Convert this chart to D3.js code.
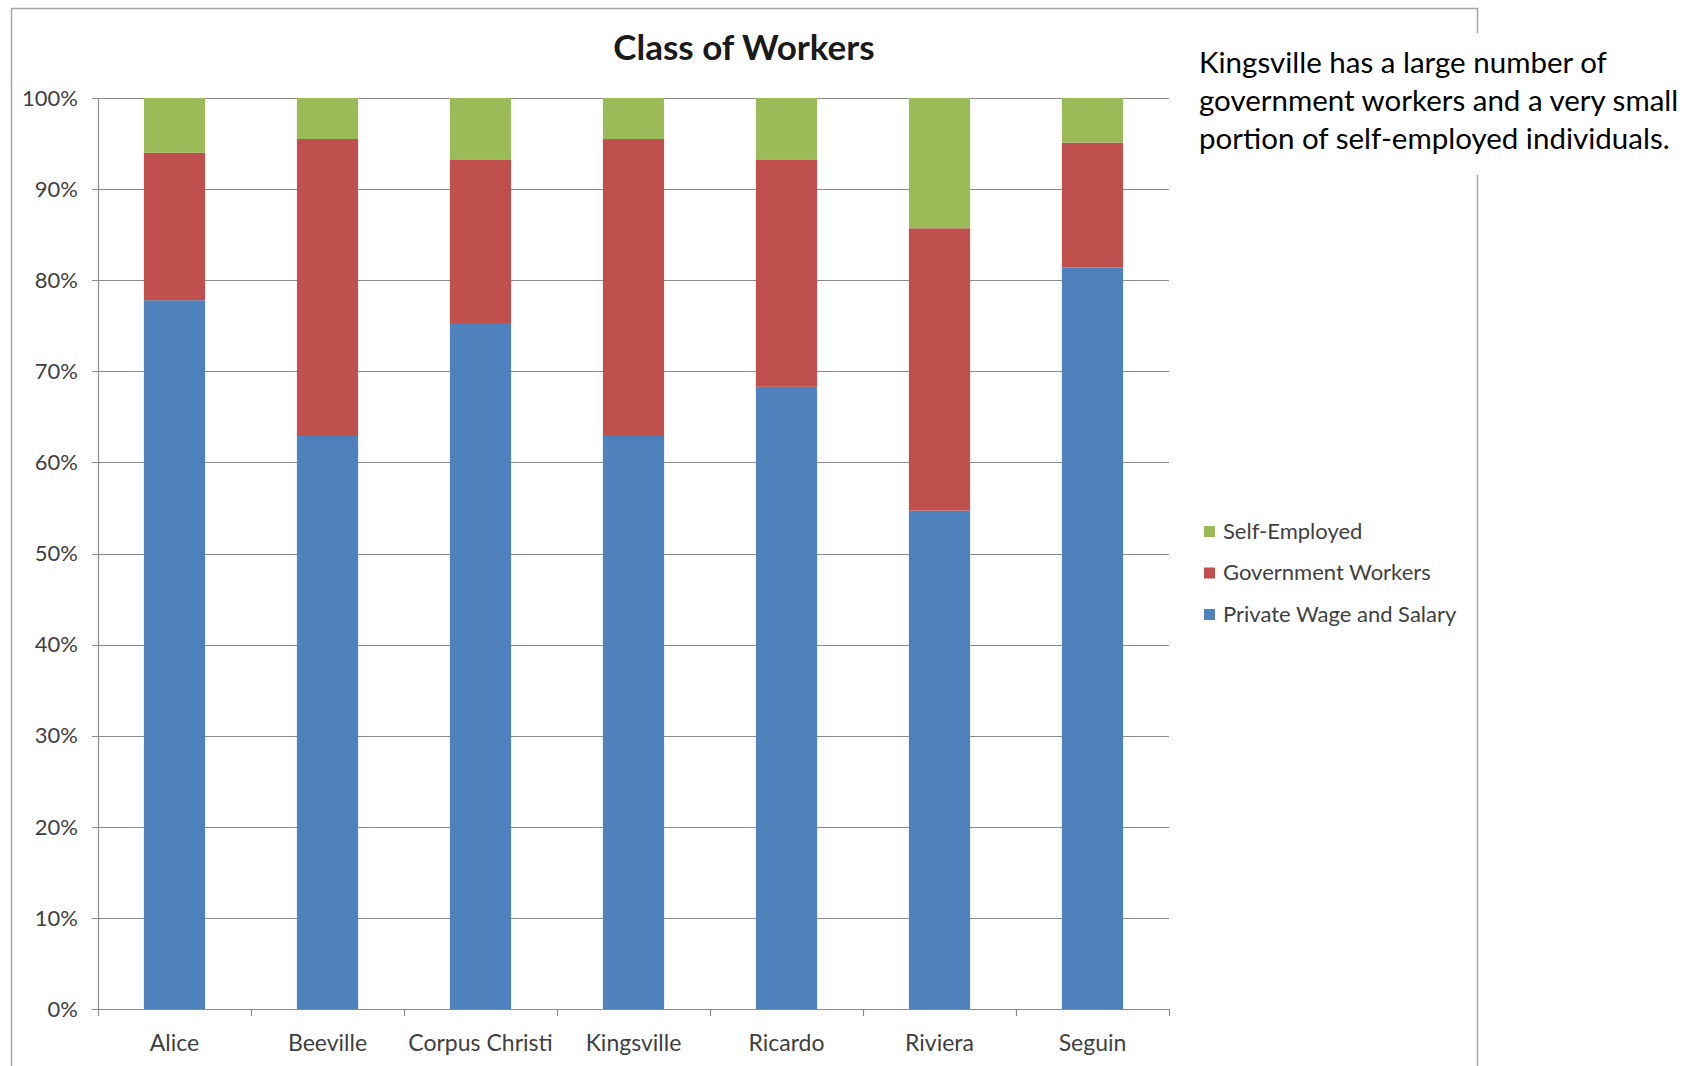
<!DOCTYPE html>
<html>
<head>
<meta charset="utf-8">
<script src="https://cdn.jsdelivr.net/npm/d3@7"></script>
<style>
  body { margin: 0; background: #fff; }
  svg { display: block; font-family: Lato, "Open Sans", sans-serif; }
</style>
</head>
<body>
<div id="chart"></div>
<script>
// 数据
const cities = ['Alice', 'Beeville', 'Corpus Christi', 'Kingsville', 'Ricardo', 'Riviera', 'Seguin'];
const privateWage = [77.8, 62.9, 75.2, 62.9, 68.3, 54.7, 81.4];
const government = [16.2, 32.6, 18.0, 32.6, 24.9, 31.0, 13.7];
const selfEmployed = [6.0, 4.5, 6.8, 4.5, 6.8, 14.3, 4.9];
const seriesNames = ['Private Wage and Salary', 'Government Workers', 'Self-Employed'];
const seriesColors = ['#4F81BD', '#C0504D', '#9BBB59'];
const yTicks = [0, 10, 20, 30, 40, 50, 60, 70, 80, 90, 100];
const note = ['Kingsville has a large number of', 'government workers and a very small', 'portion of self-employed individuals.'];

const W = 1704, H = 1066;
const svg = d3.select('#chart').append('svg').attr('width', W).attr('height', H);

// 图表外框
svg.append('rect')
    .attr('x', 11.5).attr('y', 8.5)
    .attr('width', 1466).attr('height', 1100)
    .attr('fill', '#fff')
    .attr('stroke', '#a6a6a6')
    .attr('stroke-width', 1.5);

const plot = {left: 98, right: 1169, top: 98, bottom: 1009};

let x = d3.scaleBand()
    .domain(cities)
    .range([plot.left, plot.right])
    .paddingInner(0.6)
    .paddingOuter(0.3);
let y = d3.scaleLinear().domain([0, 100]).range([plot.bottom, plot.top]);

// 网格线
svg.append('g')
    .selectAll('line')
    .data(yTicks)
    .enter()
    .append('line')
    .attr('x1', plot.left - 6)
    .attr('x2', plot.right)
    .attr('y1', d => Math.round(y(d)) + 0.5)
    .attr('y2', d => Math.round(y(d)) + 0.5)
    .style('stroke', '#8c8c8c')
    .style('stroke-width', 1.2);

// y轴标签
svg.append('g')
    .selectAll('text')
    .data(yTicks)
    .enter()
    .append('text')
    .attr('x', plot.left - 20)
    .attr('y', d => y(d))
    .attr('dy', '0.35em')
    .style('text-anchor', 'end')
    .style('font-size', '22px')
    .style('fill', '#404040')
    .text(d => d + '%');

// 堆叠数据
let rows = cities.map((c, i) => ({
    city: c,
    'Private Wage and Salary': privateWage[i],
    'Government Workers': government[i],
    'Self-Employed': selfEmployed[i]
}));
let stack = d3.stack().keys(seriesNames);
let color = d3.scaleOrdinal().domain(seriesNames).range(seriesColors);

svg.append('g')
    .selectAll('g')
    .data(stack(rows))
    .enter()
    .append('g')
    .style('fill', d => color(d.key))
    .selectAll('rect')
    .data(d => d)
    .enter()
    .append('rect')
    .attr('x', d => x(d.data.city))
    .attr('width', x.bandwidth())
    .attr('y', d => y(d[1]))
    .attr('height', d => y(d[0]) - y(d[1]));

// 轴线
svg.append('line')
    .attr('x1', plot.left + 0.5).attr('x2', plot.left + 0.5)
    .attr('y1', plot.top).attr('y2', plot.bottom)
    .style('stroke', '#8c8c8c').style('stroke-width', 1.2);
svg.append('line')
    .attr('x1', plot.left).attr('x2', plot.right)
    .attr('y1', Math.round(y(0)) + 0.5).attr('y2', Math.round(y(0)) + 0.5)
    .style('stroke', '#8c8c8c').style('stroke-width', 1.2);

// x轴刻度
let step = (plot.right - plot.left) / cities.length;
svg.append('g')
    .selectAll('line')
    .data(d3.range(cities.length + 1))
    .enter()
    .append('line')
    .attr('x1', i => Math.round(plot.left + i * step) + 0.5)
    .attr('x2', i => Math.round(plot.left + i * step) + 0.5)
    .attr('y1', plot.bottom)
    .attr('y2', plot.bottom + 7)
    .style('stroke', '#8c8c8c').style('stroke-width', 1.2);

svg.append('g')
    .selectAll('text')
    .data(cities)
    .enter()
    .append('text')
    .attr('x', d => x(d) + x.bandwidth() / 2)
    .attr('y', 1051)
    .style('text-anchor', 'middle')
    .style('font-size', '23px')
    .style('fill', '#404040')
    .text(d => d);

// 标题
svg.append('text')
    .attr('x', 744)
    .attr('y', 60)
    .style('text-anchor', 'middle')
    .style('font-size', '35px')
    .style('font-weight', 'bold')
    .style('fill', '#1a1a1a')
    .text('Class of Workers');

// 图例
let legendOrder = seriesNames.slice().reverse();
let legend = svg.append('g')
    .selectAll('g')
    .data(legendOrder)
    .enter()
    .append('g')
    .attr('transform', (d, i) => `translate(1204, ${531 + i * 41.5})`);
legend.append('rect')
    .attr('x', 0).attr('y', -5)
    .attr('width', 11).attr('height', 11)
    .style('fill', d => color(d));
legend.append('text')
    .attr('x', 19)
    .attr('dy', '0.35em')
    .style('font-size', '22px')
    .style('fill', '#404040')
    .text(d => d);

// 注释文本框
svg.append('rect')
    .attr('x', 1190).attr('y', 33)
    .attr('width', 514).attr('height', 142)
    .attr('fill', '#fff');
svg.append('g')
    .selectAll('text')
    .data(note)
    .enter()
    .append('text')
    .attr('x', 1199)
    .attr('y', (d, i) => 73 + i * 38)
    .style('font-size', '29.5px')
    .style('fill', '#000')
    .text(d => d);
</script>
</body>
</html>
